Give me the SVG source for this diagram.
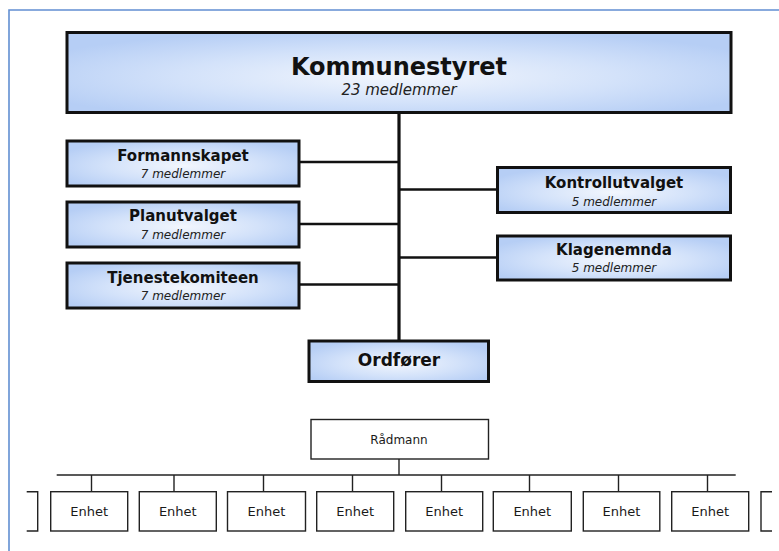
<svg xmlns="http://www.w3.org/2000/svg" width="779" height="551" viewBox="0 0 779 551">
<defs>
<radialGradient id="blueFill" cx="0.5" cy="0.55" r="0.6">
<stop offset="0" stop-color="#F2F6FD"/>
<stop offset="0.55" stop-color="#D3E2FA"/>
<stop offset="1" stop-color="#B6CEF5"/>
</radialGradient>
<style>
.box{fill:url(#blueFill);stroke:#111;stroke-width:3}
.plain{fill:#fff;stroke:#222;stroke-width:1.4}
.title{font-family:"DejaVu Sans",sans-serif;font-weight:bold;font-size:15px;fill:#111;text-anchor:middle}
.sub{font-family:"DejaVu Sans",sans-serif;font-style:italic;font-size:12px;fill:#222;text-anchor:middle}
.small{font-family:"DejaVu Sans",sans-serif;font-size:13px;fill:#1a1a1a;text-anchor:middle}
.conn{stroke:#111;fill:none}
</style>
</defs>
<rect width="779" height="551" fill="#fff"/>
<path d="M9,551 V10 H779" fill="none" stroke="#628FD2" stroke-width="1.6"/>

<g id="connectors">
<line class="conn" x1="399" y1="112" x2="399" y2="341" stroke-width="3.2"/>
<line class="conn" x1="299" y1="162" x2="399" y2="162" stroke-width="2.6"/>
<line class="conn" x1="299" y1="224" x2="399" y2="224" stroke-width="2.6"/>
<line class="conn" x1="299" y1="284.5" x2="399" y2="284.5" stroke-width="2.6"/>
<line class="conn" x1="399" y1="189.5" x2="497" y2="189.5" stroke-width="2.6"/>
<line class="conn" x1="399" y1="257.5" x2="497" y2="257.5" stroke-width="2.6"/>
<g stroke="#222" stroke-width="1.4" fill="none">
<line x1="399" y1="459" x2="399" y2="475"/>
<line x1="56.7" y1="475" x2="735.7" y2="475"/>
<line x1="91.5" y1="475" x2="91.5" y2="491.7"/>
<line x1="174" y1="475" x2="174" y2="491.7"/>
<line x1="263.5" y1="475" x2="263.5" y2="491.7"/>
<line x1="352.5" y1="475" x2="352.5" y2="491.7"/>
<line x1="441.5" y1="475" x2="441.5" y2="491.7"/>
<line x1="529.5" y1="475" x2="529.5" y2="491.7"/>
<line x1="618.5" y1="475" x2="618.5" y2="491.7"/>
<line x1="707.5" y1="475" x2="707.5" y2="491.7"/>
</g>
</g>

<g id="kommunestyret">
<rect class="box" x="67" y="32.5" width="664" height="80" stroke-width="3.5"/>
<text class="title" x="399" y="75" style="font-size:24px">Kommunestyret</text>
<text class="sub" x="399" y="95" style="font-size:15px">23 medlemmer</text>
</g>

<g id="formannskapet">
<rect class="box" x="67" y="141" width="232" height="45"/>
<text class="title" x="183" y="160.5">Formannskapet</text>
<text class="sub" x="183" y="178">7 medlemmer</text>
</g>

<g id="planutvalget">
<rect class="box" x="67" y="202" width="232" height="45"/>
<text class="title" x="183" y="221">Planutvalget</text>
<text class="sub" x="183" y="238.5">7 medlemmer</text>
</g>

<g id="tjenestekomiteen">
<rect class="box" x="67" y="263" width="232" height="45"/>
<text class="title" x="183" y="282.5">Tjenestekomiteen</text>
<text class="sub" x="183" y="300">7 medlemmer</text>
</g>

<g id="kontrollutvalget">
<rect class="box" x="497.5" y="167.5" width="233" height="45"/>
<text class="title" x="614" y="188">Kontrollutvalget</text>
<text class="sub" x="614" y="205.5">5 medlemmer</text>
</g>

<g id="klagenemnda">
<rect class="box" x="497.5" y="236" width="233" height="44"/>
<text class="title" x="614" y="255">Klagenemnda</text>
<text class="sub" x="614" y="271.5">5 medlemmer</text>
</g>

<g id="ordforer">
<rect class="box" x="309" y="341" width="179.5" height="40.5"/>
<text class="title" x="399" y="366" style="font-size:17px">Ordfører</text>
</g>

<g id="radmann">
<rect class="plain" x="311" y="419.5" width="177.5" height="39.5"/>
<text class="small" x="399" y="443.5" style="font-size:12px">Rådmann</text>
</g>

<g id="enhet-left-partial">
<polyline class="plain" points="26.7,491.7 37.7,491.7 37.7,531 26.7,531" fill="none"/>
</g>
<g id="enhet1"><rect class="plain" x="50.7" y="491.7" width="77" height="39.3"/><text class="small" x="89.2" y="516">Enhet</text></g>
<g id="enhet2"><rect class="plain" x="139.3" y="491.7" width="77" height="39.3"/><text class="small" x="177.8" y="516">Enhet</text></g>
<g id="enhet3"><rect class="plain" x="227.5" y="491.7" width="78" height="39.3"/><text class="small" x="266.5" y="516">Enhet</text></g>
<g id="enhet4"><rect class="plain" x="316.7" y="491.7" width="77" height="39.3"/><text class="small" x="355.2" y="516">Enhet</text></g>
<g id="enhet5"><rect class="plain" x="405.7" y="491.7" width="77" height="39.3"/><text class="small" x="444.2" y="516">Enhet</text></g>
<g id="enhet6"><rect class="plain" x="493.3" y="491.7" width="78" height="39.3"/><text class="small" x="532.3" y="516">Enhet</text></g>
<g id="enhet7"><rect class="plain" x="583.3" y="491.7" width="76.5" height="39.3"/><text class="small" x="621.5" y="516">Enhet</text></g>
<g id="enhet8"><rect class="plain" x="671.7" y="491.7" width="77" height="39.3"/><text class="small" x="710.2" y="516">Enhet</text></g>
<g id="enhet-right-partial">
<polyline class="plain" points="772,491.7 761,491.7 761,531 772,531" fill="none"/>
</g>
</svg>
